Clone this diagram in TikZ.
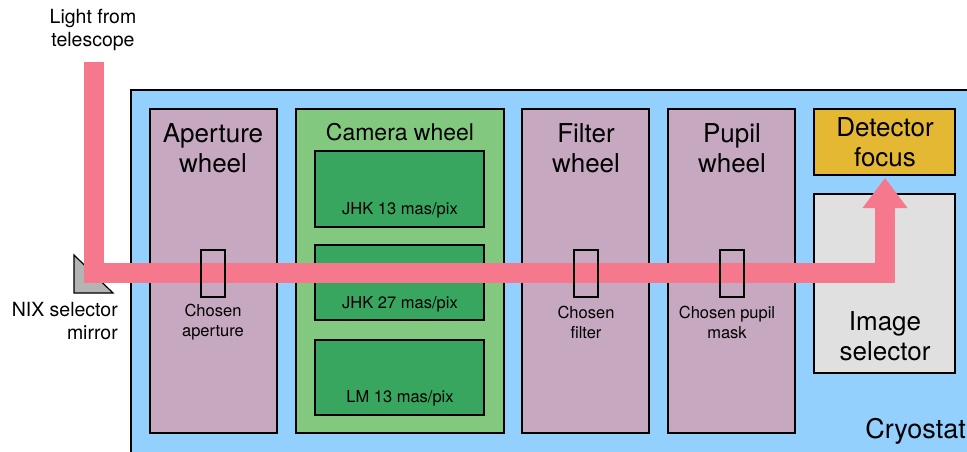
\documentclass[tikz,border=0pt]{standalone}
\usepackage{fontspec}
\setmainfont{TeX Gyre Heros}
\usetikzlibrary{arrows.meta}
\definecolor{cryoblue}{HTML}{93D0FE}
\definecolor{wheelpurple}{HTML}{C6A8C0}
\definecolor{camgreen}{HTML}{82C97F}
\definecolor{lensgreen}{HTML}{38A65F}
\definecolor{focusyellow}{HTML}{E4B833}
\definecolor{selgray}{HTML}{E0E0E0}
\definecolor{mirrorgray}{HTML}{B4B4B4}
\definecolor{beampink}{HTML}{F6788C}
\begin{document}
\begin{tikzpicture}[x=1pt,y=-1pt,
	box/.style={draw=black,line width=1.2pt},
	big/.style={align=center,inner sep=0pt,font=\fontsize{26}{30}\selectfont},
	small/.style={align=center,inner sep=0pt,font=\fontsize{16.5}{20}\selectfont},
	side/.style={inner sep=0pt,font=\fontsize{19.5}{23}\selectfont},
	beam/.style={draw=beampink,line width=20pt,line join=miter,line cap=butt}]
	\clip (0,0) rectangle (967,451);
	\filldraw[box,fill=cryoblue] (131,90) rectangle (1000,480);
	\filldraw[box,fill=wheelpurple] (150,109) rectangle (277,433);
	\filldraw[box,fill=camgreen] (296,109) rectangle (504,433);
	\filldraw[box,fill=lensgreen] (315,151) rectangle (484,227);
	\filldraw[box,fill=lensgreen] (315,245) rectangle (484,320);
	\filldraw[box,fill=lensgreen] (315,340) rectangle (484,415);
	\filldraw[box,fill=wheelpurple] (522,109) rectangle (649,433);
	\filldraw[box,fill=wheelpurple] (668,109) rectangle (795,433);
	\filldraw[box,fill=focusyellow] (814,109) rectangle (955,175);
	\filldraw[box,fill=selgray] (814,194) rectangle (955,373);
	\filldraw[box,fill=mirrorgray,line join=miter] (74,255) -- (74,293) -- (113,293) -- cycle;
	\coordinate (beamin) at (93.5,62);
	\coordinate (beammirror) at (93.5,273.3);
	\coordinate (beamturn) at (885,273.3);
	\coordinate (beamfocus) at (885,178);
	\draw[beam,-{Triangle[width=45pt,length=30pt,line width=0pt]}] (beamin) -- (beammirror) -- (beamturn) -- (beamfocus);
	\draw[box] (201,250) rectangle (225,297);
	\draw[box] (574,250) rectangle (598,297);
	\draw[box] (720,250) rectangle (744,297);
	\node[side,align=center] (light) at (93,29.5) {Light from\\telescope};
	\node[side,align=right,anchor=east] (nix) at (118,321.5) {NIX selector\\mirror};
	\node[big] (aperture) at (213,148) {Aperture\\wheel};
	\node[big,font=\fontsize{23}{27}\selectfont] (camera) at (400,132) {Camera wheel};
	\node[small] (jhkfine) at (400,210) {JHK 13 mas/pix};
	\node[small] (jhkcoarse) at (400,304) {JHK 27 mas/pix};
	\node[small] (lm) at (400,398) {LM 13 mas/pix};
	\node[big] (filter) at (586,148) {Filter\\wheel};
	\node[big] (pupil) at (732,148) {Pupil\\wheel};
	\node[big] (focus) at (885,142.5) {Detector\\focus};
	\node[big] (selector) at (885,336.5) {Image\\selector};
	\node[small] (chosenap) at (213,322) {Chosen\\aperture};
	\node[small] (chosenfil) at (586,322) {Chosen\\filter};
	\node[small] (chosenpup) at (727,322) {Chosen pupil\\mask};
	\node[big,font=\fontsize{27}{30}\selectfont,anchor=east] (cryostat) at (966,431) {Cryostat};
\end{tikzpicture}
\end{document}
